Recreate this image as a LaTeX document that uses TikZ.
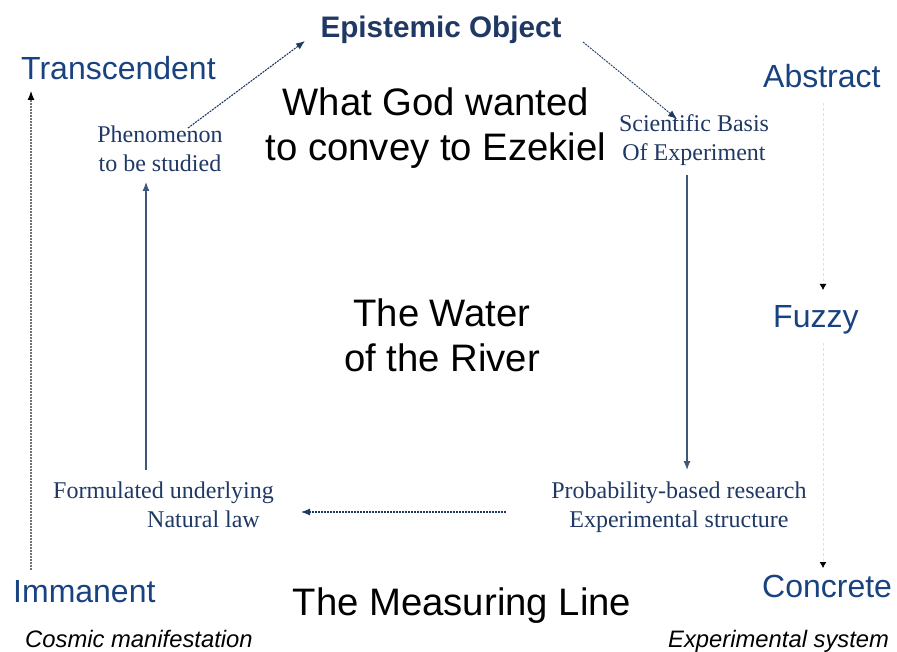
\documentclass[tikz,border=0pt]{standalone}
\usepackage{fontspec}
\setmainfont{Liberation Serif}
\setsansfont{Liberation Sans}
\usetikzlibrary{arrows.meta}
\definecolor{navy}{RGB}{31,56,100}
\definecolor{lblue}{RGB}{25,66,128}
\tikzset{
  big/.style={font=\sffamily\fontsize{38.3}{45}\selectfont, text=black, inner sep=0pt, anchor=base, align=center},
  axislbl/.style={font=\sffamily\fontsize{32}{36}\selectfont, text=lblue, inner sep=0pt, anchor=base west},
  ital/.style={font=\sffamily\itshape\fontsize{23.8}{27}\selectfont, text=black, inner sep=0pt, anchor=base west},
  stepbox/.style={font=\rmfamily\fontsize{24}{29}\selectfont, text=navy, inner sep=0pt, anchor=base, align=center},
  tip/.style={-{Latex[length=9pt,width=7pt]}},
  dotline/.style={tip, navy, line width=1.1pt, dash pattern=on 2pt off 1pt},
  solidline/.style={tip, navy!85, line width=1.2pt},
  faint/.style={-{Latex[length=6pt,width=7pt,black]}, black!12, line width=0.8pt, densely dashed},
}
\begin{document}
\begin{tikzpicture}[x=1pt,y=-1pt]
\useasboundingbox (0,0) rectangle (897,652);
% main labels
\node[font=\sffamily\bfseries\fontsize{29.7}{35}\selectfont, text=navy, inner sep=0pt, anchor=base] (epi) at (441,38) {Epistemic Object};
\node[big] (god) at (436,161) {What God wanted\\to convey to Ezekiel};
\node[big] (water) at (442,371) {The Water\\of the River};
\node[big] (measure) at (462,615) {The Measuring Line};
% axis labels
\node[axislbl] (trans) at (21,80) {Transcendent};
\node[axislbl] (imm) at (13,602) {Immanent};
\node[axislbl] (abs) at (763,88) {Abstract};
\node[axislbl] (fuzzy) at (773,328) {Fuzzy};
\node[axislbl] (conc) at (762,597) {Concrete};
\node[ital] (cosmic) at (25,647) {Cosmic manifestation};
\node[ital] (expsys) at (668,647) {Experimental system};
% cycle steps
\node[stepbox] (phen) at (160,172) {Phenomenon\\to be studied};
\node[stepbox] (sci) at (694,161) {Scientific Basis\\Of Experiment};
\node[stepbox] (prob) at (679,527) {Probability-based research\\Experimental structure};
\node[stepbox, align=left, anchor=base west] (form) at (53,527) {Formulated underlying\\\hspace*{94pt}Natural law};
% coordinates for connectors
\coordinate (a1) at (188,128);
\coordinate (a2) at (305,41);
\coordinate (b1) at (583,42);
\coordinate (b2) at (677,119);
\coordinate (c1) at (687,175);
\coordinate (c2) at (687,470);
\coordinate (d1) at (506,512);
\coordinate (d2) at (301,512);
\coordinate (e1) at (146,470);
\coordinate (e2) at (146,182);
\coordinate (f1) at (31,570);
\coordinate (f2) at (31,91);
\coordinate (g1) at (823,103);
\coordinate (g2) at (823,290);
\coordinate (h1) at (823,343);
\coordinate (h2) at (823,568);
% connectors
\draw[dotline] (a1) -- (a2);
\draw[dotline, line width=0.9pt] (b1) -- (b2);
\draw[solidline] (c1) -- (c2);
\draw[dotline] (d1) -- (d2);
\draw[solidline] (e1) -- (e2);
\draw[-{Latex[length=9pt,width=7pt,black]}, black!55, line width=1.1pt, dash pattern=on 2pt off 1pt] (f1) -- (f2);
\draw[faint] (g1) -- (g2);
\draw[faint] (h1) -- (h2);
\end{tikzpicture}
\end{document}
